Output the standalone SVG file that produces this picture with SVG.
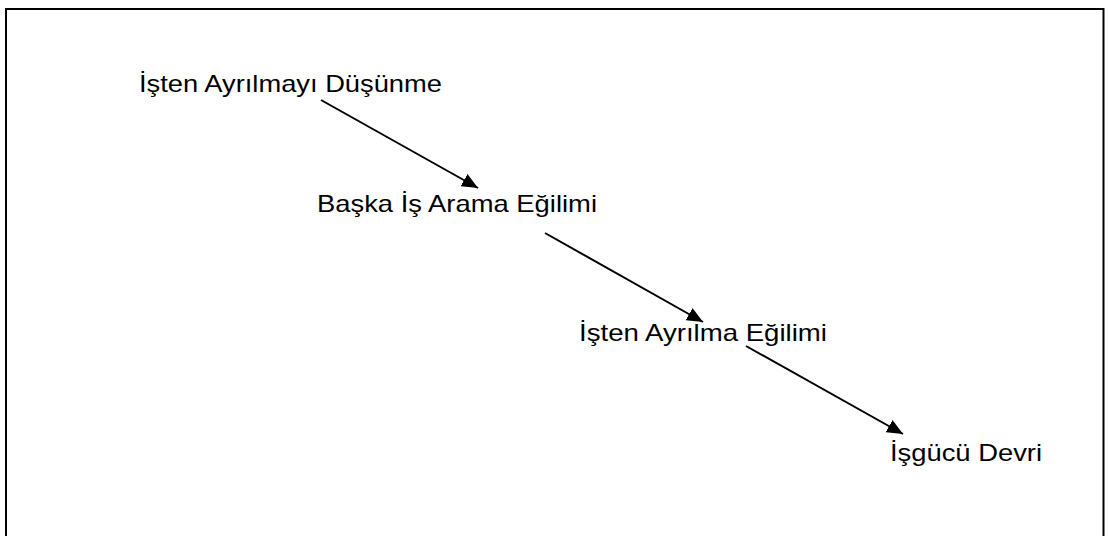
<svg xmlns="http://www.w3.org/2000/svg" width="1109" height="536" viewBox="0 0 1109 536">
<defs>
<style>
.lbl{font-family:"Liberation Sans",Arial,sans-serif;font-size:24px;fill:#000;}
.con{stroke:#000;stroke-width:2;fill:none;marker-end:url(#ah);}
</style>
<marker id="ah" viewBox="0 0 16 14" refX="16" refY="7" markerWidth="16" markerHeight="14" markerUnits="userSpaceOnUse" orient="auto">
<path d="M0,0 L16,7 L0,14 Z" fill="#000"/>
</marker>
</defs>
<rect x="0" y="0" width="1109" height="536" fill="#fff"/>
<rect x="6" y="9" width="1097.5" height="540" fill="none" stroke="#000" stroke-width="2"/>
<g id="connectors">
<line class="con" x1="321" y1="100" x2="478" y2="188"/>
<line class="con" x1="545" y1="233" x2="703" y2="322"/>
<line class="con" x1="746" y1="346" x2="903" y2="434"/>
</g>
<g id="n1"><text class="lbl" x="139" y="92" textLength="303" lengthAdjust="spacingAndGlyphs">İşten Ayrılmayı Düşünme</text></g>
<g id="n2"><text class="lbl" x="317" y="212" textLength="280" lengthAdjust="spacingAndGlyphs">Başka İş Arama Eğilimi</text></g>
<g id="n3"><text class="lbl" x="579" y="341" textLength="248" lengthAdjust="spacingAndGlyphs">İşten Ayrılma Eğilimi</text></g>
<g id="n4"><text class="lbl" x="890" y="461" textLength="152" lengthAdjust="spacingAndGlyphs">İşgücü Devri</text></g>
</svg>
